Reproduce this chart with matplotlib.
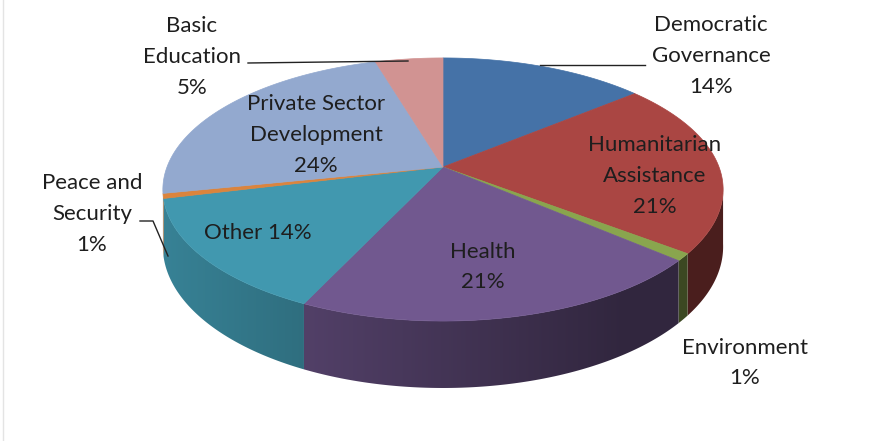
import numpy as np
import matplotlib
matplotlib.use("Agg")
import matplotlib.pyplot as plt
from matplotlib.patches import Polygon

# slice data, clockwise from 12 o'clock
names = ["Democratic\nGovernance", "Humanitarian\nAssistance", "Environment", "Health",
         "Other", "Peace and\nSecurity", "Private Sector\nDevelopment", "Basic\nEducation"]
shares = [14.0, 21.4, 0.9, 20.7, 14.2, 0.6, 23.6, 4.6]
colors = ["#4572A7", "#AA4643", "#89A54E", "#71588F", "#4198AF", "#DB843D", "#93A9CF", "#D19392"]

# label placement (pixel coords) and leader lines
label_pos = [(711, 56), (655, 176), (745, 363), (483, 267), (258, 233), (92, 214), (316, 135), (192, 57)]
leaders = [
    [(540, 65), (645, 65)],
    None, None, None, None,
    [(140, 221), (153, 221), (168, 256)],
    None,
    [(248, 63), (408, 61)],
]

CX, CY = 443, 167      # pie centre on screen
A, B = 276, 127.7      # horizontal / depth radius
H = 55.5               # thickness
K = 0.171              # perspective factor
W, HT = 881, 441


def proj(theta, h):
    u = np.sin(theta)
    v = -np.cos(theta)
    w = 1 - K * v
    return CX + A * u / w, CY + (B * v + H * h) / w


fig = plt.figure(figsize=(8.81, 4.41), dpi=100)
ax = fig.add_axes([0, 0, 1, 1])

cum = np.concatenate([[0], np.cumsum(shares)]) / np.sum(shares) * 2 * np.pi

# visible part of the side wall (between the two silhouette points)
T0 = np.arccos(-K) - 0.02
T1 = 2 * np.pi - np.arccos(-K) + 0.02

# horizontal shading of the wall: lighter on the left, darker on the right
xs_px = np.arange(W) + 0.5
u_scr = (xs_px - CX) / A
fac = np.maximum(0.44, 0.60 - 0.25 * u_scr)

for i, col in enumerate(colors):
    a, b = max(cum[i], T0), min(cum[i + 1], T1)
    if a >= b:
        continue
    ts = np.linspace(a, b, 200)
    xt, yt = proj(ts, 0)
    xb, yb = proj(ts[::-1], 1)
    pts = list(zip(xt, yt)) + list(zip(xb, yb))
    poly = Polygon(pts, closed=True, facecolor="none", edgecolor="none")
    ax.add_patch(poly)
    rgb = np.array(matplotlib.colors.to_rgb(col))
    img = (fac[:, None] * rgb[None, :])[None, :, :]
    im = ax.imshow(img, extent=[0, W, HT, 0], aspect="auto", interpolation="bilinear", zorder=1)
    im.set_clip_path(poly)

# top face
for i, col in enumerate(colors):
    ts = np.linspace(cum[i], cum[i + 1], 120)
    xt, yt = proj(ts, 0)
    pts = [(CX, CY)] + list(zip(xt, yt))
    ax.add_patch(Polygon(pts, closed=True, facecolor=col, edgecolor=col, lw=0.5, zorder=2))

# labels
for i, name in enumerate(names):
    pct = f"{round(shares[i])}%"
    txt = f"{name} {pct}" if name == "Other" else f"{name}\n{pct}"
    x, y = label_pos[i]
    ax.text(x, y, txt, ha="center", va="center", fontsize=16, family="Lato",
            color="#1e1e1e", linespacing=1.68, zorder=4)
    if leaders[i]:
        lx, ly = zip(*leaders[i])
        ax.plot(lx, ly, color="#222222", lw=1.0, zorder=3)

# faint chart-area border on the left
ax.plot([2.5, 2.5], [0, HT], color="#e4e4e4", lw=1.0, zorder=0)

ax.set_xlim(0, W)
ax.set_ylim(HT, 0)
ax.axis("off")

fig.savefig("out.png", dpi=100)
